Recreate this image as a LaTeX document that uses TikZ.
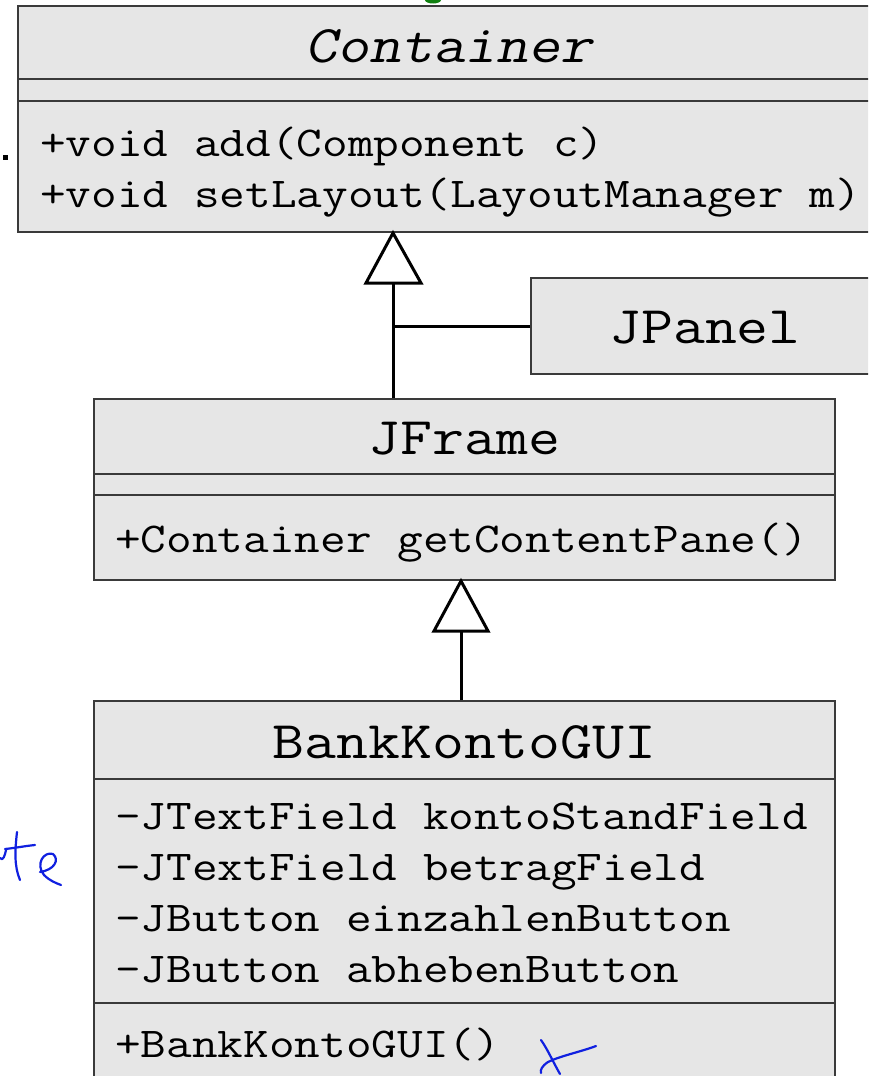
\documentclass[tikz,border=0pt]{standalone}
\usepackage{fontspec}
\newfontfamily\umlfont[FakeStretch=1.172]{Latin Modern Mono}
\newfontfamily\umlslant[FakeStretch=1.172,FakeSlant=0.2]{Latin Modern Mono}
\definecolor{boxfill}{HTML}{E6E6E6}
\definecolor{boxline}{HTML}{3A3A3A}
\definecolor{penblue}{HTML}{1020E0}
\definecolor{pengreen}{HTML}{108010}
\begin{document}
\begin{tikzpicture}[x=1pt,y=-1pt,
  umlbox/.style={draw=boxline, fill=boxfill, line width=1.5pt, rectangle, inner sep=0pt},
  sepline/.style={draw=boxline, line width=1.5pt},
  titletext/.style={inner sep=0pt, anchor=base, font=\umlfont\fontsize{52.9}{60}\selectfont},
  membertext/.style={inner sep=0pt, anchor=base west, font=\umlfont\fontsize{42.5}{50}\selectfont},
  conn/.style={draw=black, line width=3pt},
  ink/.style={draw=penblue, line width=2.2pt, line cap=round, line join=round}]
\useasboundingbox (0,0) rectangle (868,1076);
\clip (0,0) rectangle (868,1076);
\fill[white] (0,0) rectangle (868,1076);

% Container
\node[umlbox, minimum width=862pt, minimum height=226pt] (container) at (449,119) {};
\draw[sepline] (18,79) -- (880,79);
\draw[sepline] (18,101) -- (880,101);
\node[titletext, font=\umlslant\fontsize{52.9}{60}\selectfont] (containertitle) at (449,62) {Container};
\node[membertext] (cm1) at (40,156) {+void add(Component c)};
\node[membertext] (cm2) at (40,207) {+void setLayout(LayoutManager m)};

% JPanel
\node[umlbox, minimum width=348pt, minimum height=96pt] (jpanel) at (705,326) {};
\node[titletext] (jpaneltitle) at (705,343) {JPanel};

% JFrame
\node[umlbox, minimum width=741pt, minimum height=181pt] (jframe) at (464.5,489.5) {};
\draw[sepline] (94,474) -- (835,474);
\draw[sepline] (94,495) -- (835,495);
\node[titletext] (jframetitle) at (464.5,454) {JFrame};
\node[membertext] (jm1) at (115,552) {+Container getContentPane()};

% BankKontoGUI
\node[umlbox, minimum width=741pt, minimum height=389pt] (gui) at (464.5,895.5) {};
\draw[sepline] (94,779) -- (835,779);
\draw[sepline] (94,1003) -- (835,1003);
\node[titletext] (guititle) at (464.5,758) {BankKontoGUI};
\node[membertext] (ga1) at (115,829) {-JTextField kontoStandField};
\node[membertext] (ga2) at (115,880) {-JTextField betragField};
\node[membertext] (ga3) at (115,931) {-JButton einzahlenButton};
\node[membertext] (ga4) at (115,982) {-JButton abhebenButton};
\node[membertext] (gm1) at (115,1057) {+BankKontoGUI()};

% generalisation JFrame/JPanel -> Container
\coordinate (tip1) at (393,233);
\coordinate (base1) at (393,283);
\draw[conn] (jframe.north -| tip1) -- (base1);
\draw[conn] (jpanel.west) -- (jpanel.west -| tip1);
\draw[conn, fill=white, line join=miter] (tip1) -- (366,283) -- (421,283) -- cycle;

% generalisation BankKontoGUI -> JFrame
\coordinate (tip2) at (461,581);
\coordinate (base2) at (461,631);
\draw[conn] (gui.north -| tip2) -- (base2);
\draw[conn, fill=white, line join=miter] (tip2) -- (434,631) -- (488,631) -- cycle;

% handwritten marks
\fill[pengreen] (433,0) ellipse (8pt and 3.5pt);
\fill[black] (3,155) rectangle (8,160);
\draw[ink] (0,858) .. controls (3,862) and (5,855) .. (6,850);
\draw[ink] (17,832) .. controls (15,850) and (14,866) .. (20,880);
\draw[ink] (5,849) .. controls (15,848) and (25,846) .. (35,845);
\draw[ink] (40,872) .. controls (54,870) and (60,860) .. (53,854) .. controls (44,851) and (35,864) .. (44,875) .. controls (50,881) and (56,883) .. (61,885);
\draw[ink] (541,1040) .. controls (548,1050) and (552,1060) .. (560,1074);
\draw[ink] (596,1046) .. controls (580,1052) and (560,1056) .. (548,1062) .. controls (542,1066) and (540,1070) .. (541,1073);
\end{tikzpicture}
\end{document}
